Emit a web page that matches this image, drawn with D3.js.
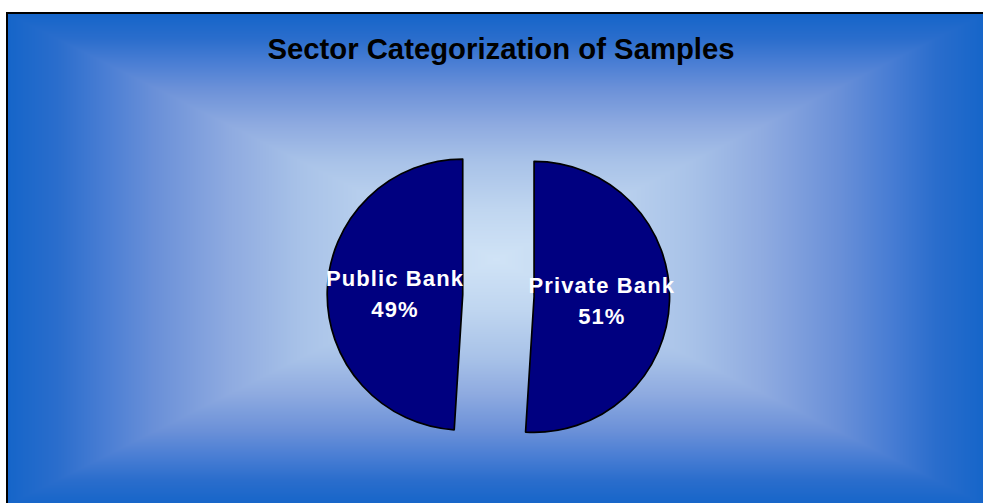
<!DOCTYPE html>
<html>
<head>
<meta charset="utf-8">
<script src="https://cdn.jsdelivr.net/npm/d3@7/dist/d3.min.js"></script>
<style>
  html, body { margin: 0; padding: 0; background: #ffffff; }
  svg { display: block; }
</style>
</head>
<body>
<svg id="chart" width="983" height="503"></svg>
<script>
// ---- data ----
const categories = ["Public Bank", "Private Bank"];
const values = [49, 51];
const labels = ["49%", "51%"];
const titleText = "Sector Categorization of Samples";

// ---- layout ----
const W = 983, H = 503;
const svg = d3.select("#chart");

// chart area (partly outside the viewport)
const area = { x0: 8, y0: 14, x1: 985, y1: 505 };
const cx = (area.x0 + area.x1) / 2, cy = (area.y0 + area.y1) / 2;
const hw = (area.x1 - area.x0) / 2, hh = (area.y1 - area.y0) / 2;

// rectangular "from centre" gradient: t = 0 at the edge, 1 at the centre
const bgColor = d3.scaleLinear()
  .domain([0, 0.1, 0.2, 0.3, 0.45, 0.6, 0.8, 1])
  .range(["#1565c9", "#2a6dcc", "#4a7ed4", "#6a90d8", "#8eaae0", "#a8c2e8", "#c0d6f0", "#d0e3f6"])
  .clamp(true);

const canvas = document.createElement("canvas");
canvas.width = W; canvas.height = H;
const ctx = canvas.getContext("2d");
const img = ctx.createImageData(W, H);
for (let y = 0; y < H; y++) {
  for (let x = 0; x < W; x++) {
    const k = (y * W + x) * 4;
    if (x < area.x0 || y < area.y0 || x > area.x1 || y > area.y1) {
      img.data[k] = img.data[k + 1] = img.data[k + 2] = 255; img.data[k + 3] = 255;
      continue;
    }
    const d = Math.max(Math.abs(x + 0.5 - cx) / hw, Math.abs(y + 0.5 - cy) / hh);
    const c = d3.rgb(bgColor(1 - d));
    img.data[k] = c.r; img.data[k + 1] = c.g; img.data[k + 2] = c.b; img.data[k + 3] = 255;
  }
}
ctx.putImageData(img, 0, 0);
svg.append("image")
  .attr("x", 0).attr("y", 0).attr("width", W).attr("height", H)
  .attr("href", canvas.toDataURL());

// border
svg.append("rect")
  .attr("x", area.x0 - 1).attr("y", area.y0 - 1)
  .attr("width", area.x1 - area.x0 + 2).attr("height", area.y1 - area.y0 + 2)
  .attr("fill", "none").attr("stroke", "#000").attr("stroke-width", 2);

// title
svg.append("text")
  .attr("x", 501).attr("y", 59)
  .attr("text-anchor", "middle")
  .attr("font-family", "'Liberation Sans', Arial, sans-serif")
  .attr("font-weight", "bold").attr("font-size", 29.3)
  .attr("fill", "#000")
  .text(titleText);

// pie
const O = { x: 498.4, y: 295.7 };
const R = 135.5;
const explode = 35.7;
const total = d3.sum(values);
const start = -2 * Math.PI * values[0] / total;
const pie = d3.pie().sort(null).value(d => d)
  .startAngle(start).endAngle(start + 2 * Math.PI);
const arcs = pie(values);
const arc = d3.arc().innerRadius(0).outerRadius(R);

const g = svg.append("g").attr("transform", `translate(${O.x},${O.y})`);
const slice = g.selectAll("g.slice").data(arcs).join("g")
  .attr("class", "slice")
  .attr("transform", d => {
    const m = (d.startAngle + d.endAngle) / 2;
    return `translate(${explode * Math.sin(m)},${-explode * Math.cos(m)})`;
  });

slice.append("path")
  .attr("d", arc)
  .attr("fill", "#000080")
  .attr("stroke", "#000")
  .attr("stroke-width", 1.7)
  .attr("stroke-linejoin", "round");

const lab = slice.append("text")
  .attr("transform", d => { const c = arc.centroid(d); return `translate(${c[0]},${c[1]})`; })
  .attr("text-anchor", "middle")
  .attr("font-family", "'Liberation Sans', Arial, sans-serif")
  .attr("font-weight", "bold").attr("font-size", 22)
  .attr("letter-spacing", "1.1px")
  .attr("fill", "#ffffff");
lab.append("tspan").attr("x", 0).attr("y", -6).text((d, i) => categories[i]);
lab.append("tspan").attr("x", 0).attr("y", 25).text((d, i) => labels[i]);
</script>
</body>
</html>
